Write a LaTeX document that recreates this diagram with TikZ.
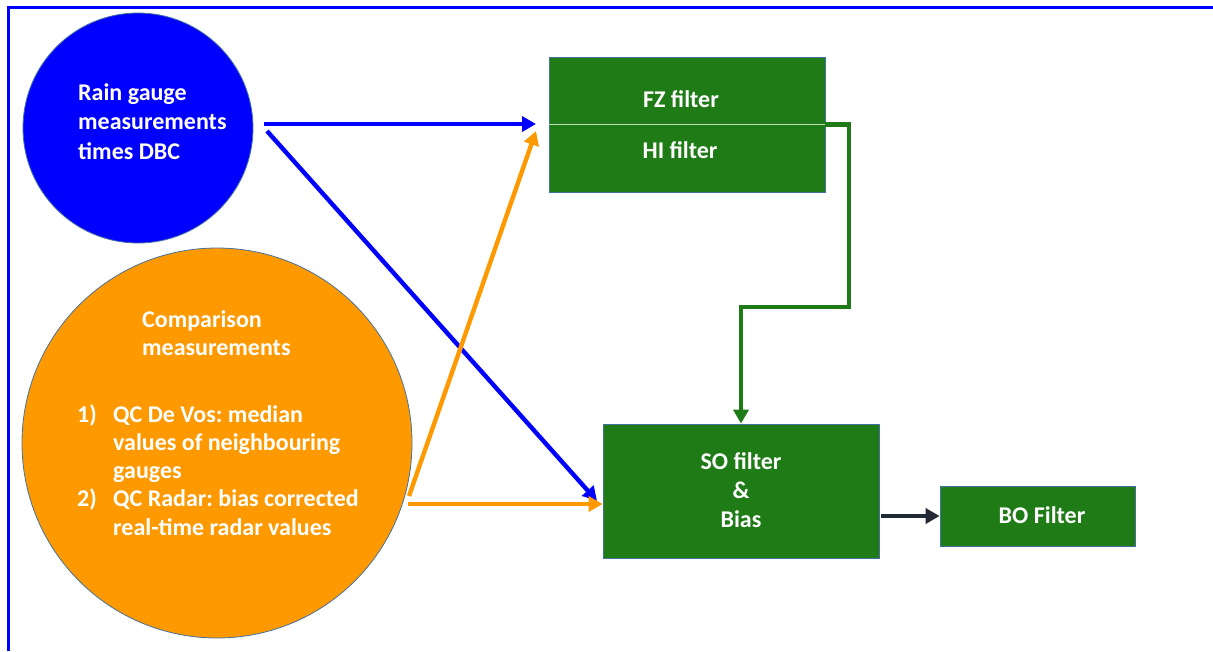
\documentclass[tikz,border=0pt]{standalone}
\usepackage{fontspec}
\setmainfont{Carlito}
\usetikzlibrary{arrows.meta}
\frenchspacing

\definecolor{gaugeBlue}{RGB}{0,0,255}
\definecolor{comparisonOrange}{RGB}{255,153,0}
\definecolor{filterGreen}{RGB}{30,123,22}
\definecolor{outlineGray}{RGB}{68,114,160}
\definecolor{dividerLight}{RGB}{190,222,190}
\definecolor{arrowDark}{RGB}{34,42,53}

\tikzset{
	gauge/.style = {circle, draw = outlineGray, line width = 0.8pt, inner sep = 0pt},
	filterbox/.style = {rectangle, fill = filterGreen, draw = outlineGray, line width = 0.8pt, inner sep = 0pt},
	whitetext/.style = {text = white, font = \fontsize{24pt}{29pt}\selectfont\bfseries, inner sep = 0pt},
	flow/.style = {line width = 4.4pt, -{Triangle[length = 14pt, width = 15pt]}},
}

\begin{document}
\begin{tikzpicture}[x = 1pt, y = -1pt]
	\useasboundingbox (0,0) rectangle (1213,651);
	\draw [gaugeBlue, line width = 2.8pt] (1213,7.5) -- (8.5,7.5) -- (8.5,651);

	% sources
	\node [gauge, fill = gaugeBlue, minimum size = 230pt] (rain) at (138,128) {};
	\foreach \txt [count = \i] in {Rain gauge, measurements, times DBC}
		\node [whitetext, anchor = base west] (rain\i) at (78,70.5+29.5*\i) {\txt};

	\node [gauge, fill = comparisonOrange, minimum size = 390pt] (comparison) at (217,443) {};
	\foreach \txt [count = \i] in {Comparison, measurements}
		\node [whitetext, anchor = base west] (heading\i) at (142,299+28*\i) {\txt};
	\node [whitetext, anchor = base west] (itemOne) at (77,422) {1)};
	\node [whitetext, anchor = base west] (itemTwo) at (77,506.5) {2)};
	\foreach \txt/\y [count = \i] in {QC De Vos: median/422, values of neighbouring/450.5, gauges/478.5, QC Radar: bias corrected/506.5, real-time radar values/535}
		\node [whitetext, anchor = base west] (item\i) at (113,\y) {\txt};

	% filters
	\node [filterbox, minimum width = 276pt, minimum height = 135pt] (fzhi) at (687,124.5) {};
	\draw [dividerLight, line width = 1pt] (fzhi.west) -- (fzhi.east);
	\node [whitetext, anchor = base] (fz) at (681,107) {FZ filter};
	\node [whitetext, anchor = base] (hi) at (680,158) {HI filter};

	\node [filterbox, minimum width = 276pt, minimum height = 134pt] (so) at (741,491) {};
	\foreach \txt/\y [count = \i] in {SO filter/469, \&/498, Bias/527}
		\node [whitetext, anchor = base] (so\i) at (741,\y) {\txt};

	\node [filterbox, minimum width = 195pt, minimum height = 60pt] (bo) at (1037.5,516) {};
	\node [whitetext, anchor = base] (boText) at (1042,523) {BO Filter};

	% connectors
	\coordinate (rainToFz) at (264,124);
	\coordinate (fzIn) at (536,124);
	\coordinate (rainToSo) at (267,131);
	\coordinate (soIn) at (597,501);
	\coordinate (compToFz) at (409,496);
	\coordinate (fzInLow) at (536,131);
	\coordinate (compToSo) at (408,504);
	\coordinate (elbow) at (849,307);

	\begin{scope}[flow]
		\draw [gaugeBlue] (rainToFz) -- (fzIn);
		\draw [gaugeBlue] (rainToSo) -- (soIn);
		\draw [comparisonOrange] (compToFz) -- (fzInLow);
		\draw [comparisonOrange] (compToSo) -- (so.west |- compToSo);
		\draw [filterGreen] (fzhi.east) -| (elbow) -| (so.north);
		\draw [arrowDark, shorten <= 2pt] (so.east |- bo.west) -- (bo.west);
	\end{scope}
\end{tikzpicture}
\end{document}
